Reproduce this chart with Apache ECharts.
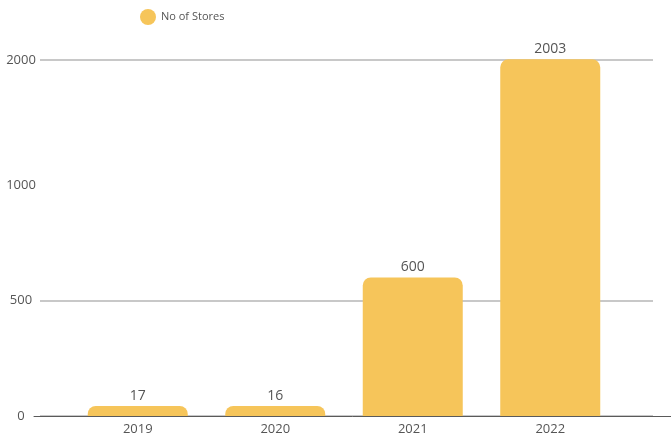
<!DOCTYPE html>
<html>
<head>
<meta charset="utf-8">
<script src="https://cdn.jsdelivr.net/npm/echarts@6/dist/echarts.min.js"></script>
<style>
  html, body { margin: 0; padding: 0; background: #fff; }
  #chart { width: 671px; height: 438px; }
</style>
</head>
<body>
<div id="chart"></div>
<script>
// Store counts per year
const years = ['2019', '2020', '2021', '2022'];
const stores = [17, 16, 600, 2003];
const seriesName = 'No of Stores';

const barColor = '#F6C55A';
const textColor = '#555555';
const fontFamily = '"Open Sans", "Noto Sans", sans-serif';

// Shared vertical scale: linear up to 1000, then the 1000–2000 span is compressed
const yScale = {
  type: 'value',
  min: 0,
  max: 2000,
  interval: 500,
  breaks: [{ start: 1000, end: 2000, gap: 541 }],
  breakArea: { show: false }
};

const chart = echarts.init(document.getElementById('chart'), null, { renderer: 'canvas' });

chart.setOption({
  animation: false,
  backgroundColor: '#ffffff',
  textStyle: { fontFamily: fontFamily },
  legend: {
    data: [seriesName],
    left: 135,
    top: 4,
    icon: 'circle',
    itemWidth: 16,
    itemHeight: 16,
    textStyle: { fontSize: 11, color: textColor, fontFamily: fontFamily }
  },
  grid: [
    // gridlines + y labels
    { left: 40, right: 18, top: 60, bottom: 22 },
    // bars + category labels
    { left: 69, width: 550, top: 60, bottom: 22 },
    // baseline
    { left: 34, right: 0, top: 60, bottom: 22 }
  ],
  xAxis: [
    { gridIndex: 0, type: 'category', data: years, show: false },
    {
      gridIndex: 1,
      type: 'category',
      data: years,
      axisLine: { show: false },
      axisTick: { show: false },
      axisLabel: { color: textColor, fontSize: 13, margin: 7, fontFamily: fontFamily }
    },
    {
      gridIndex: 2,
      type: 'category',
      data: years,
      axisLine: { show: true, lineStyle: { color: '#5a5a5a', width: 1 } },
      axisTick: { show: false },
      axisLabel: { show: false }
    }
  ],
  yAxis: [
    Object.assign({}, yScale, {
      gridIndex: 0,
      axisLine: { show: false },
      axisTick: { show: false },
      axisLabel: {
        color: textColor,
        fontSize: 13,
        align: 'center',
        margin: 19,
        fontFamily: fontFamily,
        formatter: function (v) { return String(v); }
      },
      splitLine: { show: true, lineStyle: { color: '#c8c8c8', width: 2 } }
    }),
    Object.assign({}, yScale, { gridIndex: 1, show: false, splitLine: { show: false } }),
    Object.assign({}, yScale, { gridIndex: 2, show: false, splitLine: { show: false } })
  ],
  series: [
    {
      name: seriesName,
      type: 'bar',
      xAxisIndex: 1,
      yAxisIndex: 1,
      data: stores,
      barWidth: 100,
      barMinHeight: 10,
      clip: false,
      itemStyle: { color: barColor, borderRadius: [8, 8, 0, 0] },
      label: {
        show: true,
        position: 'top',
        distance: 3,
        color: textColor,
        fontSize: 14,
        fontFamily: fontFamily
      }
    }
  ]
});
</script>
</body>
</html>
